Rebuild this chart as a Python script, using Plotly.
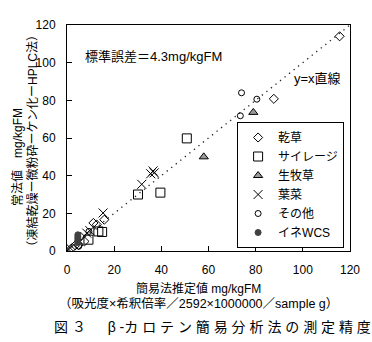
import plotly.graph_objects as go

# ---- data ----
hay_x = [115.6, 87.7, 15.8, 11.2, 12.6, 7.4, 2.1, 3.5, 4.9, 5.7]
hay_y = [114.0, 80.8, 16.6, 14.9, 14.0, 5.1, 1.6, 3.0, 3.3, 7.6]

silage_x = [50.8, 30.1, 39.6, 13.3, 14.9, 9.1]
silage_y = [59.8, 30.0, 31.0, 10.4, 10.1, 6.0]

grass_x = [79.0, 58.0]
grass_y = [73.6, 50.0]

veg_x = [35.5, 36.5, 37.0, 31.7, 15.3, 8.4, 9.7, 0.0, 1.4]
veg_y = [41.0, 42.5, 41.5, 35.4, 20.2, 9.5, 10.8, 0.7, 1.6]

other_x = [74.0, 80.5, 73.5, 9.3, 5.0]
other_y = [84.0, 80.6, 71.8, 10.4, 2.5]

wcs_x = [4.6, 4.6, 4.6, 4.6, 4.6]
wcs_y = [4.5, 5.5, 6.5, 7.5, 8.6]

line_x = [0, 120]
line_y = [0, 120]

x_ticks = [0, 20, 40, 60, 80, 100, 120]
y_ticks = [0, 20, 40, 60, 80, 100, 120]

JP = "Arial, 'Liberation Sans', 'Noto Sans CJK JP'"

fig = go.Figure()
fig.add_trace(go.Scatter(x=line_x, y=line_y, mode="lines",
                         line=dict(color="#222222", width=1.3, dash="1.3px,4.5px"),
                         showlegend=False, hoverinfo="skip"))

series = [
    ("乾草", hay_x, hay_y, dict(symbol="diamond-open", size=7, color="black", line=dict(width=1))),
    ("サイレージ", silage_x, silage_y, dict(symbol="square-open", size=9, color="black", line=dict(width=1))),
    ("生牧草", grass_x, grass_y, dict(symbol="triangle-up", size=8, color="#9a9a9a", line=dict(color="black", width=1))),
    ("葉菜", veg_x, veg_y, dict(symbol="x-thin-open", size=9, color="black", line=dict(color="black", width=1))),
    ("その他", other_x, other_y, dict(symbol="circle-open", size=6, color="black", line=dict(width=1))),
    ("イネWCS", wcs_x, wcs_y, dict(symbol="circle", size=6, color="#404040", line=dict(color="#404040", width=1))),
]
for name, xs, ys, mk in series:
    fig.add_trace(go.Scatter(x=xs, y=ys, mode="markers", name=name, marker=mk))

axis_common = dict(showgrid=False, zeroline=False, showline=True, linecolor="black",
                   linewidth=1, mirror=True, ticks="inside", ticklen=5, tickcolor="black",
                   tickfont=dict(family=JP, size=12, color="black"))

fig.update_xaxes(range=[0, 120], tickvals=x_ticks, ticklabelstandoff=8, **axis_common)
fig.update_yaxes(range=[0, 120], tickvals=y_ticks, ticklabelstandoff=8, **axis_common)

ann = [
    dict(text="標準誤差＝4.3mg/kgFM", x=(83 - 67) / 288, y=(251 - 56) / 226,
         xanchor="left", yanchor="middle", font=dict(size=13)),
    dict(text="y=x直線", x=(348 - 67) / 288, y=(251 - 78) / 226,
         xanchor="right", yanchor="middle", font=dict(size=13)),
    dict(text="簡易法推定値 mg/kgFM", x=(201 - 67) / 288, y=(251 - 288) / 226,
         xanchor="center", yanchor="middle", font=dict(size=12)),
    dict(text="（吸光度×希釈倍率／2592×1000000／sample g）", x=(201 - 67) / 288, y=(251 - 303) / 226,
         xanchor="center", yanchor="middle", font=dict(size=12.5)),
    dict(text="図 ３ 　 β -カ ロ テ ン 簡 易 分 析 法 の 測 定 精 度", x=(52 - 67) / 288, y=(251 - 327) / 226,
         xanchor="left", yanchor="middle", font=dict(size=14)),
    dict(text="常法値　mg/kgFM", x=(16 - 67) / 288, y=(251 - 157) / 226, textangle=-90,
         xanchor="center", yanchor="middle", font=dict(size=12)),
    dict(text="（凍結乾燥ー微粉砕ーケン化ーHPLC法）", x=(31 - 67) / 288, y=(251 - 141) / 226, textangle=-90,
         xanchor="center", yanchor="middle", font=dict(size=12)),
]
for a in ann:
    a.update(xref="paper", yref="paper", showarrow=False)
    a["font"].update(family=JP, color="black")
    fig.add_annotation(**a)

fig.update_layout(
    width=372, height=342,
    margin=dict(l=67, r=17, t=25, b=91),
    paper_bgcolor="white", plot_bgcolor="white",
    font=dict(family=JP, color="black"),
    showlegend=True,
    legend=dict(x=(349 - 67) / 288, y=(251 - 248) / 226, xanchor="right", yanchor="bottom",
                bordercolor="black", borderwidth=1, bgcolor="white",
                font=dict(family=JP, size=12, color="black"),
                itemwidth=30, tracegroupgap=0),
)

fig.write_html("out.html")
